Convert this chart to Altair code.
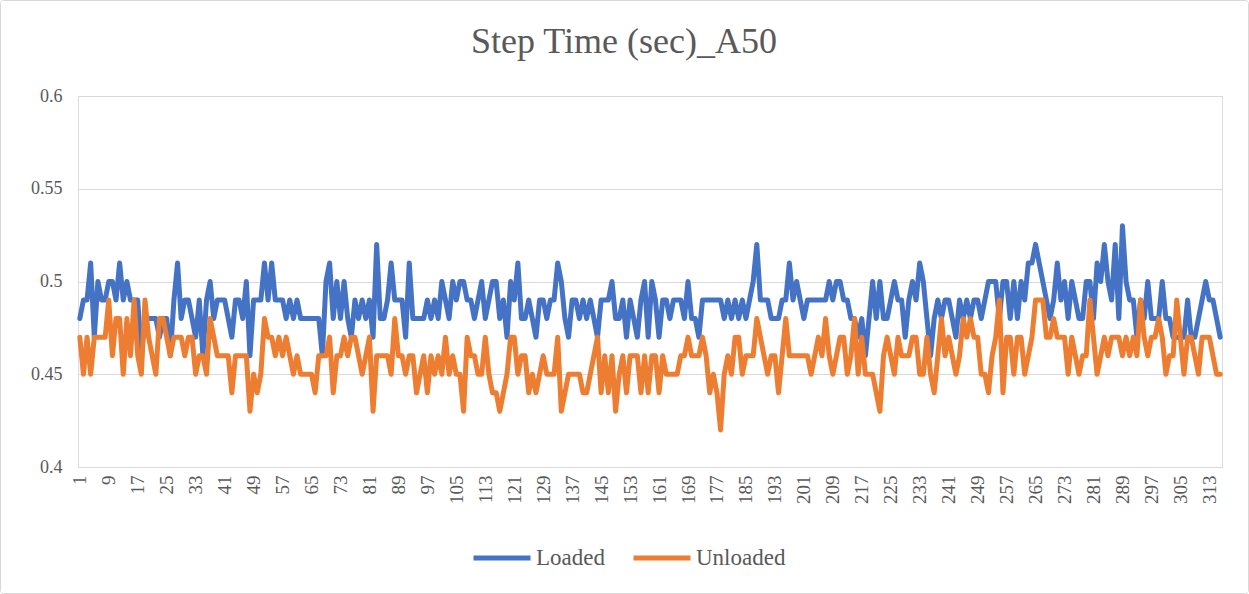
import altair as alt
import pandas as pd

# Step time per stride (seconds), A50 trial
loaded = [
    0.48, 0.49, 0.49, 0.51, 0.47, 0.50, 0.49, 0.49, 0.50, 0.50, 0.49, 0.51, 0.49, 0.50, 0.49, 0.49, 0.49, 0.46, 0.48, 0.48,
    0.48, 0.48, 0.47, 0.48, 0.48, 0.46, 0.49, 0.51,
    0.48, 0.49, 0.49, 0.48, 0.47, 0.49, 0.46, 0.49, 0.50, 0.48, 0.49, 0.49, 0.49, 0.48, 0.47, 0.49, 0.49, 0.48, 0.50, 0.46,
    0.49, 0.49, 0.49, 0.51, 0.49, 0.51, 0.49, 0.49,
    0.49, 0.48, 0.49, 0.48, 0.49, 0.48, 0.48, 0.48, 0.48, 0.48, 0.48, 0.46, 0.50, 0.51, 0.48, 0.50, 0.48, 0.50, 0.48, 0.47,
    0.49, 0.48, 0.49, 0.48, 0.49, 0.47, 0.52, 0.48, 0.48,
    0.49, 0.51, 0.49, 0.49, 0.49, 0.47, 0.51, 0.48, 0.48, 0.48, 0.48, 0.49, 0.48, 0.49, 0.48, 0.50, 0.49, 0.48, 0.50, 0.49,
    0.50, 0.50, 0.49, 0.49, 0.48, 0.49, 0.50, 0.48, 0.49, 0.50,
    0.50, 0.48, 0.49, 0.47, 0.50, 0.49, 0.51, 0.48, 0.48, 0.49, 0.48, 0.47, 0.49, 0.49, 0.48, 0.49, 0.49, 0.51, 0.50, 0.48,
    0.47, 0.49, 0.49, 0.48, 0.49, 0.48, 0.49, 0.48, 0.47,
    0.49, 0.49, 0.49, 0.50, 0.48, 0.48, 0.49, 0.47, 0.49, 0.48, 0.47, 0.49, 0.50, 0.47, 0.50, 0.49, 0.47, 0.49, 0.49, 0.48,
    0.49, 0.49, 0.49, 0.48, 0.50, 0.48, 0.48, 0.47,
    0.49, 0.49, 0.49, 0.49, 0.49, 0.49, 0.48, 0.49, 0.48, 0.49, 0.48, 0.49, 0.48, 0.49, 0.50, 0.52, 0.49, 0.49, 0.49, 0.48,
    0.48, 0.48, 0.49, 0.49, 0.51, 0.49, 0.50, 0.49,
    0.48, 0.49, 0.49, 0.49, 0.49, 0.49, 0.49, 0.50, 0.49, 0.50, 0.50, 0.49, 0.49, 0.48, 0.48, 0.47, 0.48, 0.46, 0.48, 0.50,
    0.48, 0.50, 0.48, 0.48, 0.49, 0.50, 0.49, 0.49, 0.47,
    0.49, 0.50, 0.49, 0.51, 0.50, 0.48, 0.46, 0.48, 0.49, 0.48, 0.49, 0.49, 0.48, 0.47, 0.49, 0.48, 0.49, 0.48, 0.49, 0.49,
    0.48, 0.49, 0.50, 0.50, 0.50, 0.48, 0.50, 0.50,
    0.48, 0.50, 0.48, 0.50, 0.49, 0.51, 0.51, 0.52, 0.51, 0.50, 0.49, 0.48, 0.49, 0.51, 0.49, 0.50, 0.48, 0.50, 0.49, 0.48,
    0.48, 0.50, 0.50, 0.48, 0.51, 0.50, 0.52, 0.50, 0.49,
    0.52, 0.48, 0.53, 0.50, 0.49, 0.49, 0.47, 0.49, 0.48, 0.50, 0.48, 0.48, 0.48, 0.50, 0.48, 0.48, 0.47, 0.47, 0.47, 0.47,
    0.49, 0.47, 0.47, 0.48, 0.49, 0.50, 0.49, 0.49, 0.48, 0.47,
]

unloaded = [
    0.47, 0.45, 0.47, 0.45, 0.47, 0.47, 0.47, 0.47, 0.49, 0.46, 0.48, 0.48, 0.45, 0.48, 0.46, 0.49, 0.46, 0.45, 0.49, 0.47,
    0.46, 0.45, 0.48, 0.48, 0.47, 0.46, 0.47, 0.47,
    0.47, 0.46, 0.47, 0.47, 0.45, 0.46, 0.46, 0.45, 0.48, 0.47, 0.46, 0.46, 0.46, 0.46, 0.44, 0.46, 0.46, 0.46, 0.46, 0.43,
    0.45, 0.44, 0.45, 0.48, 0.47, 0.47, 0.46, 0.47,
    0.46, 0.47, 0.46, 0.45, 0.46, 0.45, 0.45, 0.45, 0.45, 0.44, 0.46, 0.46, 0.46, 0.47, 0.44, 0.46, 0.46, 0.47, 0.46, 0.47,
    0.47, 0.46, 0.45, 0.46, 0.47, 0.43, 0.46, 0.46, 0.46,
    0.46, 0.45, 0.48, 0.46, 0.46, 0.45, 0.46, 0.46, 0.44, 0.45, 0.46, 0.44, 0.46, 0.45, 0.46, 0.45, 0.47, 0.45, 0.46, 0.45,
    0.45, 0.43, 0.47, 0.46, 0.46, 0.45, 0.45, 0.47, 0.45, 0.44,
    0.44, 0.43, 0.44, 0.45, 0.47, 0.47, 0.45, 0.46, 0.46, 0.44, 0.45, 0.44, 0.45, 0.46, 0.45, 0.45, 0.45, 0.47, 0.43, 0.44,
    0.45, 0.45, 0.45, 0.45, 0.44, 0.44, 0.45, 0.46, 0.47,
    0.44, 0.46, 0.44, 0.46, 0.43, 0.45, 0.46, 0.44, 0.46, 0.46, 0.46, 0.44, 0.46, 0.44, 0.46, 0.46, 0.44, 0.46, 0.45, 0.45,
    0.45, 0.45, 0.46, 0.46, 0.47, 0.46, 0.46, 0.46,
    0.47, 0.46, 0.44, 0.45, 0.44, 0.42, 0.45, 0.46, 0.45, 0.47, 0.47, 0.45, 0.46, 0.46, 0.46, 0.48, 0.47, 0.46, 0.45, 0.46,
    0.46, 0.44, 0.46, 0.48, 0.46, 0.46, 0.46, 0.46,
    0.46, 0.46, 0.45, 0.46, 0.47, 0.46, 0.48, 0.46, 0.45, 0.46, 0.47, 0.47, 0.45, 0.46, 0.48, 0.45, 0.47, 0.45, 0.45, 0.45,
    0.44, 0.43, 0.46, 0.47, 0.46, 0.45, 0.47, 0.46, 0.46,
    0.46, 0.47, 0.47, 0.45, 0.45, 0.47, 0.45, 0.44, 0.46, 0.48, 0.46, 0.47, 0.46, 0.45, 0.46, 0.48, 0.47, 0.48, 0.47, 0.47,
    0.45, 0.45, 0.44, 0.46, 0.47, 0.49, 0.44, 0.47,
    0.47, 0.45, 0.47, 0.47, 0.45, 0.46, 0.47, 0.49, 0.49, 0.49, 0.47, 0.47, 0.48, 0.47, 0.47, 0.47, 0.45, 0.47, 0.46, 0.45,
    0.46, 0.46, 0.49, 0.47, 0.45, 0.46, 0.47, 0.46, 0.47,
    0.47, 0.47, 0.46, 0.47, 0.46, 0.47, 0.46, 0.49, 0.47, 0.46, 0.47, 0.47, 0.48, 0.47, 0.45, 0.46, 0.46, 0.49, 0.47, 0.45,
    0.47, 0.47, 0.46, 0.45, 0.47, 0.47, 0.47, 0.46, 0.45, 0.45,
]

series_names = ["Loaded", "Unloaded"]
series_colors = ["#4472C4", "#ED7D31"]
y_ticks = [0.4, 0.45, 0.5, 0.55, 0.6]
n = len(loaded)
x_ticks = list(range(1, n + 1, 8))
title_text = "Step Time (sec)_A50"

rows = []
for name, vals in zip(series_names, [loaded, unloaded]):
    for i, v in enumerate(vals, start=1):
        rows.append({"idx": i, "value": v, "series": name})
df = pd.DataFrame(rows)

FONT = "Liberation Serif"
GREY = "#595959"

lines = alt.Chart(df).mark_line(strokeWidth=5, strokeJoin="round", strokeCap="round").encode(
    x=alt.X(
        "idx:Q",
        scale=alt.Scale(domain=[0.5, n + 0.5], nice=False, zero=False),
        axis=alt.Axis(
            values=x_ticks, labelAngle=270, grid=False, domain=False, ticks=False,
            labelPadding=8, labelFont=FONT, labelFontSize=19, labelColor=GREY,
            labelOverlap=False, labelFlush=False, title=None,
        ),
    ),
    y=alt.Y(
        "value:Q",
        scale=alt.Scale(domain=[0.4, 0.6], nice=False, zero=False),
        axis=alt.Axis(
            values=y_ticks, format="~g", grid=True, gridColor="#D9D9D9", gridWidth=1,
            domain=False, ticks=False, labelPadding=16, labelFont=FONT,
            labelFontSize=18, labelColor=GREY, title=None,
        ),
    ),
    color=alt.Color(
        "series:N",
        scale=alt.Scale(domain=series_names, range=series_colors),
        legend=alt.Legend(
            orient="none", legendX=393, legendY=431, direction="horizontal", title=None,
            symbolType="stroke", symbolStrokeWidth=5, symbolSize=3249,
            labelFont=FONT, labelFontSize=23, labelColor=GREY,
            labelOffset=3, columnPadding=18, symbolOffset=0,
        ),
    ),
    order=alt.Order("idx:Q"),
)

# light frame around the whole chart
frame = alt.Chart(pd.DataFrame({"k": [0]})).mark_rect(
    fill=None, stroke="#D9D9D9", strokeWidth=1, cornerRadius=3
).encode(
    x=alt.value(-77.5), x2=alt.value(1170.5), y=alt.value(-95.5), y2=alt.value(497.5)
)

# chart heading, centred across the full width
heading = alt.Chart(pd.DataFrame({"t": [title_text]})).mark_text(
    font=FONT, fontSize=36, color=GREY, align="center", baseline="middle"
).encode(
    text="t:N", x=alt.value(546), y=alt.value(-54)
)

chart = alt.layer(frame, lines, heading).properties(
    width=1144,
    height=371,
    padding={"left": 78, "top": 96, "right": 27, "bottom": 127},
    autosize=alt.AutoSizeParams(type="none"),
).configure_view(stroke=None).configure(background="white")

chart.save("out.html", embed_options={"renderer": "svg", "actions": False})
